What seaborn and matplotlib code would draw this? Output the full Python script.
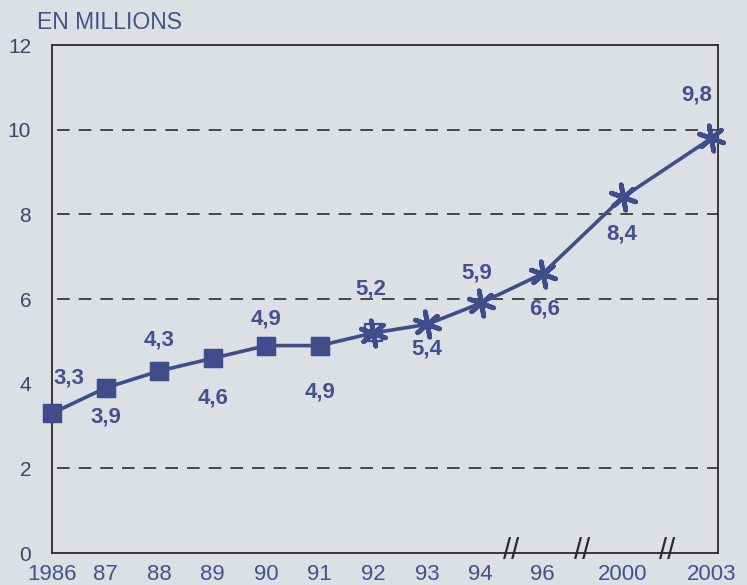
import matplotlib
matplotlib.use("Agg")
import matplotlib.pyplot as plt
import seaborn as sns
import pandas as pd
import numpy as np

# ---- data ----
years = ["1986", "87", "88", "89", "90", "91", "92", "93", "94", "96", "2000", "2003"]
values = [3.3, 3.9, 4.3, 4.6, 4.9, 4.9, 5.2, 5.4, 5.9, 6.6, 8.4, 9.8]
value_labels = ["3,3", "3,9", "4,3", "4,6", "4,9", "4,9", "5,2", "5,4", "5,9", "6,6", "8,4", "9,8"]
square_years = ["1986", "87", "88", "89", "90", "91", "92"]
star_years = ["92", "93", "94", "96", "2000", "2003"]
hollow_square_years = ["92"]
y_ticks = [0, 2, 4, 6, 8, 10, 12]
grid_levels = [2, 6, 8, 10]
unit_label = "EN MILLIONS"

# ---- layout (axis spacing, broken axis after 94) ----
steps = [1] * 8 + [1.16, 1.49, 1.66]
xpos = np.concatenate([[0], np.cumsum(steps)])
break_after = ["94", "96", "2000"]
# label offsets in pixels (dx, dy)
label_offsets = [(17, 35), (0, -29), (0, 31), (0, -40), (0, 27), (0, -46),
                 (-3, 44), (0, -25), (-4, 30), (2, -35), (-1, -37), (-15, 43)]

df = pd.DataFrame({"year": years, "x": xpos, "value": values})

bg = "#dcdfe3"
line_col = "#3f4d8c"
text_col = "#45518e"
tick_col = "#3e4566"

sns.set_theme(style="white")
plt.rcParams["font.family"] = ["Liberation Sans", "DejaVu Sans"]

fig = plt.figure(figsize=(7.47, 5.85), dpi=100, facecolor=bg)
ax = fig.add_axes([0.0696, 0.0547, 0.8914, 0.8683])
ax.set_facecolor(bg)

for lvl in grid_levels:
    ax.axhline(lvl, xmin=0.008, xmax=1, color="#3a3a3a", lw=1.3,
               dashes=(7, 5), zorder=1)

sns.lineplot(data=df, x="x", y="value", ax=ax, color=line_col, lw=2.6,
             zorder=3, legend=False)
sq = df[df.year.isin(square_years)]
st = df[df.year.isin(star_years)]
hollow = sq[sq.year.isin(hollow_square_years)]
solid = sq[~sq.year.isin(hollow_square_years)]
sns.scatterplot(data=solid, x="x", y="value", ax=ax, marker="s", s=170,
                color=line_col, edgecolor=line_col, zorder=4, legend=False,
                clip_on=False)
ax.scatter(hollow.x, hollow.value, marker="s", s=150, facecolor="none",
           edgecolor=line_col, linewidth=1.6, zorder=4, clip_on=False)
sns.scatterplot(data=st, x="x", y="value", ax=ax, marker=(6, 2, 10), s=340,
                color=line_col, linewidth=3.4, edgecolor=line_col, zorder=5,
                legend=False, clip_on=False)

for xi, v, lab, (dx, dy) in zip(df.x, df.value, value_labels, label_offsets):
    ax.annotate(lab, (xi, v), xytext=(dx, dy), textcoords="offset pixels",
                ha="center", va="center", fontsize=16, fontweight="bold",
                color=text_col, zorder=6)

ax.set_xlim(0, xpos[-1] + 0.12)
ax.set_ylim(0, 12)
ax.set_xticks(xpos)
ax.set_xticklabels(years)
ax.set_yticks(y_ticks)
ax.set_yticklabels([str(t) for t in y_ticks])
ax.tick_params(axis="x", length=0, pad=8, labelsize=16, labelcolor=text_col)
ax.tick_params(axis="y", length=0, pad=15, labelsize=15, labelcolor=tick_col)
ax.set_xlabel("")
ax.set_ylabel("")
for sp in ax.spines.values():
    sp.set_color("#2a2a2a")
    sp.set_linewidth(1.3)
    sp.set_visible(True)

# broken-axis marks
for y in break_after:
    i = years.index(y)
    xm = (xpos[i] + xpos[i + 1]) / 2
    ax.annotate("//", (xm, 0), xytext=(0, 2), textcoords="offset pixels",
                ha="center", va="center", fontsize=21, color="#2a2a2a",
                annotation_clip=False, zorder=7)

fig.text(0.0495, 0.962, unit_label, fontsize=16.5, color=text_col,
         ha="left", va="center")

fig.savefig("out.png", dpi=100, facecolor=bg)
